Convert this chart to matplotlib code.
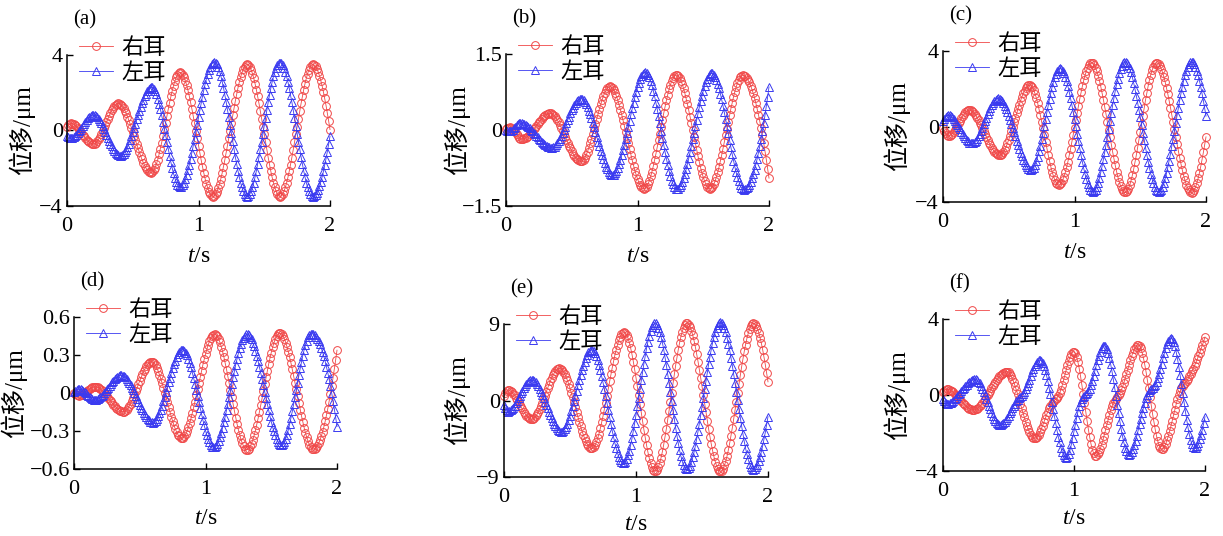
import numpy as np
import matplotlib
matplotlib.use('Agg')
import matplotlib.pyplot as plt

plt.rcParams['font.family'] = ['Liberation Serif', 'Noto Sans CJK SC']
plt.rcParams['mathtext.fontset'] = 'custom'
plt.rcParams['mathtext.rm'] = 'Liberation Serif'
plt.rcParams['mathtext.it'] = 'Liberation Serif:italic'
plt.rcParams['axes.unicode_minus'] = True

# ---------------- data (turning points) ----------------
series_labels = ['右耳', '左耳']
panel_names = ['(a)', '(b)', '(c)', '(d)', '(e)', '(f)']
x_ticks = [0, 1, 2]
x_ticklabels = ['0', '1', '2']

# (a)
a_right_t = [0, 0.03, 0.20, 0.39, 0.64, 0.86, 1.11, 1.37, 1.62, 1.87, 2.0]
a_right_v = [0.2, 0.38, -0.72, 1.44, -2.24, 3.08, -3.5, 3.5, -3.5, 3.5, 0.05]
a_left_t = [0, 0.03, 0.20, 0.405, 0.645, 0.86, 1.12, 1.37, 1.62, 1.87, 2.0]
a_left_v = [-0.3, -0.4, 0.82, -1.35, 2.29, -3.0, 3.63, -3.5, 3.6, -3.5, -0.3]
a_yticks = [-4, 0, 4]
a_yticklabels = ['\u22124', '0', '4']

# (b)
b_right_t = [0, 0.03, 0.12, 0.335, 0.57, 0.79, 1.05, 1.295, 1.55, 1.80, 2.0]
b_right_v = [0.02, 0.05, -0.18, 0.33, -0.62, 0.86, -1.16, 1.09, -1.16, 1.08, -0.95]
b_left_t = [0, 0.03, 0.105, 0.35, 0.57, 0.81, 1.06, 1.30, 1.565, 1.81, 2.0]
b_left_v = [0.0, -0.02, 0.14, -0.35, 0.62, -0.89, 1.14, -1.17, 1.12, -1.18, 0.85]
b_yticks = [-1.5, 0, 1.5]
b_yticklabels = ['\u22121.5', '0', '1.5']

# (c)
c_right_t = [0, 0.04, 0.20, 0.43, 0.66, 0.88, 1.13, 1.385, 1.625, 1.89, 2.0]
c_right_v = [-0.1, -0.5, 0.87, -1.52, 2.2, -3.1, 3.38, -3.5, 3.38, -3.5, -0.55]
c_left_t = [0, 0.04, 0.22, 0.42, 0.67, 0.89, 1.14, 1.385, 1.64, 1.89, 2.0]
c_left_v = [0.3, 0.6, -0.9, 1.49, -2.3, 3.08, -3.47, 3.43, -3.47, 3.43, 0.55]
c_yticks = [-4, 0, 4]
c_yticklabels = ['\u22124', '0', '4']

# (d)
d_right_t = [0, 0.04, 0.16, 0.375, 0.59, 0.82, 1.07, 1.315, 1.565, 1.82, 2.0]
d_right_v = [0.0, -0.02, 0.05, -0.147, 0.246, -0.356, 0.464, -0.448, 0.474, -0.443, 0.338]
d_left_t = [0, 0.04, 0.16, 0.36, 0.60, 0.825, 1.063, 1.316, 1.577, 1.805, 2.0]
d_left_v = [0.01, 0.03, -0.055, 0.14, -0.233, 0.343, -0.43, 0.464, -0.41, 0.469, -0.265]
d_yticks = [-0.6, -0.3, 0, 0.3, 0.6]
d_yticklabels = ['\u22120.6', '\u22120.3', '0', '0.3', '0.6']

# (e)
e_right_t = [0, 0.03, 0.21, 0.42, 0.665, 0.91, 1.145, 1.385, 1.64, 1.89, 2.0]
e_right_v = [0.5, 1.24, -2.2, 3.8, -5.65, 8.05, -8.33, 9.1, -8.33, 9.1, 2.2]
e_left_t = [0, 0.03, 0.21, 0.435, 0.665, 0.905, 1.145, 1.385, 1.64, 1.89, 2.0]
e_left_v = [-0.5, -1.3, 2.42, -3.68, 5.97, -7.42, 9.1, -8.13, 9.2, -8.13, -1.9]
e_yticks = [-9, 0, 9]
e_yticklabels = ['\u22129', '0', '9']

# (f)
f_right_t = [0, 0.03, 0.232, 0.486, 0.70, 0.83, 0.88, 0.997, 1.165, 1.305, 1.35, 1.49, 1.67, 1.82, 1.87, 2.0]
f_right_v = [0.17, 0.3, -0.79, 1.23, -2.28, -0.45, -0.05, 2.28, -3.2, -0.35, 0.1, 2.64, -2.85, 0.35, 0.85, 3.05]
f_left_t = [0, 0.03, 0.244, 0.435, 0.57, 0.61, 0.74, 0.94, 1.06, 1.11, 1.23, 1.42, 1.57, 1.62, 1.74, 1.92, 2.0]
f_left_v = [-0.2, -0.47, 0.83, -1.58, -0.25, 0.05, 1.84, -3.3, -0.2, 0.2, 2.6, -3.15, 0.15, 0.55, 3.0, -2.8, -1.14]
f_yticks = [-4, 0, 4]
f_yticklabels = ['\u22124', '0', '4']

sample_step = 0.01  # marker spacing seen in the picture

panels = [
    (a_right_t, a_right_v, a_left_t, a_left_v, a_yticks, a_yticklabels),
    (b_right_t, b_right_v, b_left_t, b_left_v, b_yticks, b_yticklabels),
    (c_right_t, c_right_v, c_left_t, c_left_v, c_yticks, c_yticklabels),
    (d_right_t, d_right_v, d_left_t, d_left_v, d_yticks, d_yticklabels),
    (e_right_t, e_right_v, e_left_t, e_left_v, e_yticks, e_yticklabels),
    (f_right_t, f_right_v, f_left_t, f_left_v, f_yticks, f_yticklabels),
]

# ---------------- layout (pixels) ----------------
W, H = 1223, 536
boxes = [(67, 330, 55, 206), (506, 769, 54, 206), (943, 1206, 51, 202),
         (74, 337, 317, 469), (504, 768, 324, 477), (943, 1205, 319, 471)]
ylabel_off = [45, 49, 46, 60, 47, 46]
xlabel_off = [51, 51, 50, 50, 47, 48]

RED = '#f04848'
BLUE = '#3a3af0'


def pchip(xk, yk, x):
    xk = np.asarray(xk, float)
    yk = np.asarray(yk, float)
    h = np.diff(xk)
    d = np.diff(yk) / h
    n = len(xk)
    m = np.zeros(n)
    for i in range(1, n - 1):
        if d[i - 1] * d[i] > 0:
            w1 = 2 * h[i] + h[i - 1]
            w2 = h[i] + 2 * h[i - 1]
            m[i] = (w1 + w2) / (w1 / d[i - 1] + w2 / d[i])

    def end(h0, h1, d0, d1):
        mm = ((2 * h0 + h1) * d0 - h0 * d1) / (h0 + h1)
        if np.sign(mm) != np.sign(d0):
            mm = 0.0
        elif np.sign(d0) != np.sign(d1) and abs(mm) > abs(3 * d0):
            mm = 3 * d0
        return mm

    m[0] = end(h[0], h[1], d[0], d[1])
    m[-1] = end(h[-1], h[-2], d[-1], d[-2])
    idx = np.clip(np.searchsorted(xk, x, side='right') - 1, 0, n - 2)
    s = (x - xk[idx]) / h[idx]
    h00 = 2 * s**3 - 3 * s**2 + 1
    h10 = s**3 - 2 * s**2 + s
    h01 = -2 * s**3 + 3 * s**2
    h11 = s**3 - s**2
    return (h00 * yk[idx] + h10 * h[idx] * m[idx]
            + h01 * yk[idx + 1] + h11 * h[idx] * m[idx + 1])


fig = plt.figure(figsize=(W / 100, H / 100), dpi=100)
t = np.arange(0, 2 + sample_step / 2, sample_step)

for k, (rt, rv, lt, lv, yt, ytl) in enumerate(panels):
    x0, x1, y0, y1 = boxes[k]
    wpx, hpx = x1 - x0, y1 - y0
    ax = fig.add_axes([x0 / W, 1 - y1 / H, wpx / W, hpx / H])
    ax.plot(t, pchip(rt, rv, t), color=RED, lw=0.6, marker='o', ms=5.6,
            mfc='none', mec=RED, mew=0.7, clip_on=False, label=series_labels[0])
    ax.plot(t, pchip(lt, lv, t), color=BLUE, lw=0.6, marker='^', ms=5.6,
            mfc='none', mec=BLUE, mew=0.7, clip_on=False, label=series_labels[1])
    ax.set_xlim(0, 2)
    ax.set_ylim(yt[0], yt[-1])
    ax.set_xticks(x_ticks)
    ax.set_xticklabels(x_ticklabels)
    ax.set_yticks(yt)
    ax.set_yticklabels(ytl)
    for sp in ('top', 'right'):
        ax.spines[sp].set_visible(False)
    for sp in ('left', 'bottom'):
        ax.spines[sp].set_linewidth(1.1)
    ax.tick_params(axis='both', direction='in', length=4, width=1.0, labelsize=16)
    ax.tick_params(axis='x', pad=8)
    ax.tick_params(axis='y', pad=3)
    ax.text(-ylabel_off[k] / wpx, 0.5, '位移/μm', rotation=90, ha='center',
            va='center', fontsize=18, transform=ax.transAxes)
    ax.text(0.5, -xlabel_off[k] / hpx, '$t$/s', ha='center', va='center',
            fontsize=17, transform=ax.transAxes)
    ax.text(6 / wpx, 1 + 35 / hpx, panel_names[k], ha='left', va='center',
            fontsize=15, transform=ax.transAxes)
    ax.legend(loc='upper left', bbox_to_anchor=(12 / wpx, 1 + 17 / hpx),
              frameon=False, borderpad=0, borderaxespad=0, handlelength=1.55,
              handletextpad=0.35, labelspacing=0.22, fontsize=16, numpoints=1)

fig.savefig('out.png', dpi=100)
